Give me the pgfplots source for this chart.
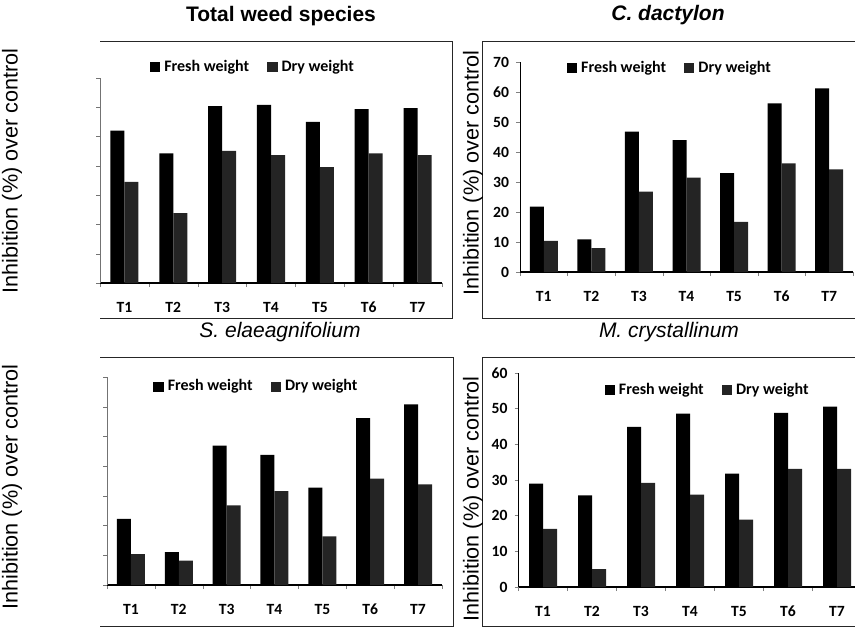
\documentclass[border=0pt]{standalone}
\usepackage{pgfplots}
\pgfplotsset{compat=1.18}
\usepackage{fontspec}
\setmainfont{Liberation Sans}
\newfontfamily\calib{Carlito}

% 1 px of the reference = 0.5pt
\pgfplotsset{
  panel/.style={
    scale only axis, anchor=south west,
    axis x line*=bottom, axis y line*=left,
    ybar, bar width=7pt,
    xmin=0.5, xmax=7.5, ymin=0,
    xtick={1,...,7}, xticklabels={T1,T2,T3,T4,T5,T6,T7},
    major x tick style={draw=none},
    minor xtick={0.5,1.5,...,7.5}, minor tick length=2pt,
    tick align=outside, major tick length=2pt,
    x axis line style={black, line width=0.6pt},
    /pgf/number format/assume math mode=true,
    tick label style={font=\calib\bfseries\fontsize{7.8}{9}\selectfont},
    xticklabel style={yshift=-4pt},
    legend columns=2,
    legend style={draw=none, fill=none, inner sep=0pt,
      font=\calib\bfseries\fontsize{8}{9}\selectfont,
      /tikz/every even column/.append style={column sep=7pt}},
  },
  leftpanel/.style={panel, ymax=70, ytick={0,10,...,70}, yticklabels={},
    y axis line style={black!55, line width=0.4pt}, ytick style={black!55}},
  rightpanel/.style={panel, y axis line style={black, line width=0.5pt}},
  fw/.style={fill=black, draw=none, bar shift=-3.5pt,
    legend image code/.code={\fill[black] (0pt,-2.6pt) rectangle (5.2pt,2.6pt);}},
  dw/.style={fill=black!86, draw=none, bar shift=3.5pt,
    legend image code/.code={\fill[black!86] (0pt,-2.6pt) rectangle (5.2pt,2.6pt);}},
}

\begin{document}
\begin{tikzpicture}
\useasboundingbox (0,0) rectangle (427.5pt,314.5pt);

% panel frames
\draw[black!85, line width=0.5pt] (50pt,294pt) -- (226pt,294pt) -- (226pt,155.5pt) -- (50pt,155.5pt);
\draw[black!85, line width=0.5pt] (430pt,294pt) -- (241pt,294pt) -- (241pt,155.5pt) -- (430pt,155.5pt);
\draw[black!85, line width=0.5pt] (50pt,136pt) -- (226.5pt,136pt) -- (226.5pt,1.5pt) -- (50pt,1.5pt);
\draw[black!85, line width=0.5pt] (430pt,136pt) -- (241pt,136pt) -- (241pt,1.5pt) -- (430pt,1.5pt);

% titles
\node[font=\bfseries\fontsize{10.5}{12}\selectfont] at (140.5pt,306.5pt) {Total weed species};
\node[font=\bfseries\itshape\fontsize{10.5}{12}\selectfont] at (334pt,307pt) {C. dactylon};
\node[font=\itshape\fontsize{10.5}{12}\selectfont] at (140pt,148.5pt) {S. elaeagnifolium};
\node[font=\itshape\fontsize{10.5}{12}\selectfont] at (334.5pt,148.5pt) {M. crystallinum};

% y labels
\node[rotate=90, font=\fontsize{10.8}{12}\selectfont] at (6pt,229pt) {Inhibition (\%) over control};
\node[rotate=90, font=\fontsize{10.8}{12}\selectfont] at (6pt,71pt) {Inhibition (\%) over control};
\node[rotate=90, font=\fontsize{10.8}{12}\selectfont] at (236.5pt,228pt) {Inhibition (\%) over control};
\node[rotate=90, font=\fontsize{10.8}{12}\selectfont] at (236.5pt,65pt) {Inhibition (\%) over control};

% Total weed species
\begin{axis}[leftpanel, at={(50pt,173pt)}, width=171pt, height=102.5pt,
  legend style={at={(0.45,1.054)}, anchor=center}]
\addplot[fw] coordinates {(1,52) (2,44.3) (3,60.4) (4,60.8) (5,55) (6,59.4) (7,59.7)};
\addplot[dw] coordinates {(1,34.5) (2,23.9) (3,45.1) (4,43.7) (5,39.6) (6,44.3) (7,43.7)};
\legend{Fresh weight, Dry weight}
\end{axis}

% C. dactylon
\begin{axis}[rightpanel, at={(260pt,178.5pt)}, width=166.5pt, height=105pt,
  ymax=70, ytick={0,10,...,70},
  legend style={at={(0.453,0.971)}, anchor=center}]
\addplot[fw] coordinates {(1,21.8) (2,10.9) (3,46.8) (4,44) (5,33) (6,56.2) (7,61.2)};
\addplot[dw] coordinates {(1,10.4) (2,8) (3,26.8) (4,31.5) (5,16.7) (6,36.2) (7,34.2)};
\legend{Fresh weight, Dry weight}
\end{axis}

% S. elaeagnifolium
\begin{axis}[leftpanel, at={(53.5pt,22pt)}, width=167.5pt, height=104pt,
  legend style={at={(0.449,0.953)}, anchor=center}]
\addplot[fw] coordinates {(1,22.3) (2,11.1) (3,46.9) (4,43.8) (5,32.8) (6,56.2) (7,60.8)};
\addplot[dw] coordinates {(1,10.4) (2,8.2) (3,26.8) (4,31.6) (5,16.4) (6,35.8) (7,33.9)};
\legend{Fresh weight, Dry weight}
\end{axis}

% M. crystallinum
\begin{axis}[rightpanel, at={(259.25pt,21pt)}, width=171.5pt, height=107pt,
  ymax=60, ytick={0,10,...,60},
  legend style={at={(0.554,0.92)}, anchor=center}]
\addplot[fw] coordinates {(1,29) (2,25.7) (3,44.9) (4,48.6) (5,31.8) (6,48.8) (7,50.6)};
\addplot[dw] coordinates {(1,16.3) (2,5) (3,29.2) (4,25.9) (5,18.9) (6,33.1) (7,33.1)};
\legend{Fresh weight, Dry weight}
\end{axis}
\end{tikzpicture}
\end{document}
